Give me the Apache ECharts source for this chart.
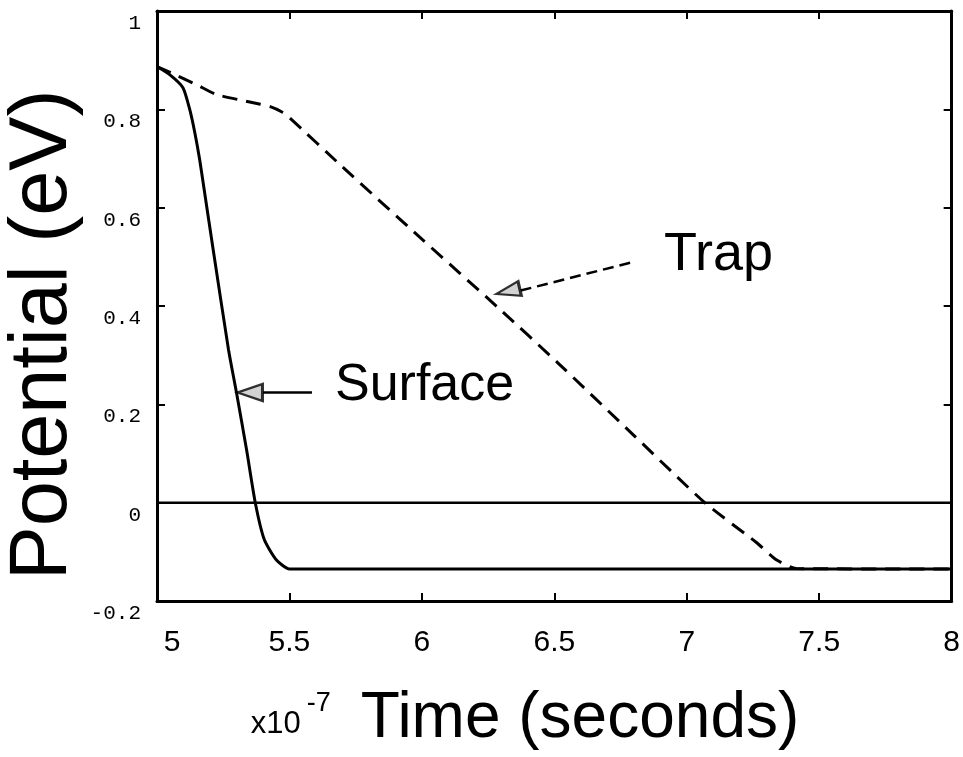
<!DOCTYPE html>
<html>
<head>
<meta charset="utf-8">
<script src="https://cdn.jsdelivr.net/npm/echarts@6/dist/echarts.min.js"></script>
<style>html,body{margin:0;padding:0;background:#fff;}#c{width:963px;height:757px;}</style>
</head>
<body>
<div id="c"></div>
<script>
// Data (time in units of 1e-7 s, potential in eV)
const surfaceX = [5.0, 5.049, 5.098, 5.124, 5.143, 5.161, 5.180, 5.212, 5.270, 5.300, 5.338, 5.371, 5.405, 5.450, 5.5, 8.0];
const surfaceY = [0.887, 0.870, 0.844, 0.799, 0.752, 0.698, 0.630, 0.515, 0.311, 0.224, 0.108, 0.0, -0.075, -0.116, -0.135, -0.135];
const trapX = [5.0, 5.07, 5.15, 5.225, 5.35, 5.43, 5.47, 5.5, 5.7, 6.0, 6.287, 6.512, 6.8, 7.068, 7.263, 7.338, 7.413, 8.0];
const trapY = [0.887, 0.870, 0.850, 0.830, 0.815, 0.805, 0.795, 0.783, 0.683, 0.536, 0.397, 0.285, 0.137, 0.0, -0.081, -0.116, -0.134, -0.135];
const zeroX = [5, 8];
const zeroY = [0, 0];
const xTicks = [5, 5.5, 6, 6.5, 7, 7.5, 8];
const yTicks = [-0.2, 0, 0.2, 0.4, 0.6, 0.8, 1];
// Annotation arrows: start of shaft, end of shaft, arrowhead centre
const trapArrowShaft = [[6.786, 0.488], [6.37, 0.431]];
const trapArrowHead = [6.325, 0.430];
const surfaceArrowShaft = [[5.585, 0.224], [5.40, 0.224]];
const surfaceArrowHead = [5.351, 0.224];

const zip = (xs, ys) => xs.map((x, i) => [x, ys[i]]);

const chart = echarts.init(document.getElementById('c'), null, {renderer: 'canvas'});
const axisLine = {show: true, onZero: false, lineStyle: {color: '#000', width: 3}};
const tick = {show: true, inside: true, length: 8, lineStyle: {color: '#000', width: 2}};
chart.setOption({
  animation: false,
  backgroundColor: '#fff',
  grid: {left: 157, right: 7, top: 11, bottom: 156},
  xAxis: [{
    type: 'value', min: xTicks[0], max: xTicks[xTicks.length - 1], interval: 0.5,
    axisLine: axisLine, axisTick: tick, splitLine: {show: false},
    axisLabel: {fontFamily: 'Liberation Sans', fontSize: 30, color: '#000', margin: 27,
      formatter: v => v === xTicks[0] ? '{first|' + v + '}' : String(v),
      rich: {first: {fontFamily: 'Liberation Sans', fontSize: 30, padding: [0, 0, 0, 30]}}}
  }, {
    type: 'value', position: 'top', min: xTicks[0], max: xTicks[xTicks.length - 1], interval: 0.5,
    axisLine: axisLine, axisTick: tick, axisLabel: {show: false}, splitLine: {show: false}
  }],
  yAxis: [{
    type: 'value', min: yTicks[0], max: yTicks[yTicks.length - 1], interval: 0.2,
    axisLine: axisLine, axisTick: tick, splitLine: {show: false},
    axisLabel: {fontFamily: 'Liberation Mono', fontSize: 21, color: '#000', margin: 16,
      verticalAlign: 'top', padding: [2, 0, 0, 0]}
  }, {
    type: 'value', position: 'right', min: yTicks[0], max: yTicks[yTicks.length - 1], interval: 0.2,
    axisLine: axisLine, axisTick: tick, axisLabel: {show: false}, splitLine: {show: false}
  }],
  series: [
    {type: 'line', data: zip(zeroX, zeroY), symbol: 'none', lineStyle: {color: '#000', width: 2.5}, z: 2},
    {type: 'line', name: 'Surface', data: zip(surfaceX, surfaceY), symbol: 'none', smooth: 0.2,
      lineStyle: {color: '#000', width: 3}, z: 3},
    {type: 'line', name: 'Trap', data: zip(trapX, trapY), symbol: 'none', smooth: 0.2,
      lineStyle: {color: '#000', width: 3, type: [15, 9]}, z: 3},
    {type: 'line', data: trapArrowShaft, symbol: 'none', lineStyle: {color: '#000', width: 2.5, type: [11, 6]}, z: 4},
    {type: 'line', data: surfaceArrowShaft, symbol: 'none', lineStyle: {color: '#000', width: 2.5}, z: 4},
    {type: 'scatter', data: [trapArrowHead], symbol: 'triangle', symbolSize: [15, 24], symbolRotate: 103,
      itemStyle: {color: '#c8c8c8', borderColor: '#000', borderWidth: 2.5}, z: 5},
    {type: 'scatter', data: [surfaceArrowHead], symbol: 'triangle', symbolSize: [17, 25], symbolRotate: 90,
      itemStyle: {color: '#c8c8c8', borderColor: '#000', borderWidth: 2.5}, z: 5}
  ],
  graphic: [
    {type: 'text', left: 664, top: 228, style: {text: 'Trap', fontFamily: 'Liberation Sans', fontSize: 54, fill: '#000'}},
    {type: 'text', left: 335, top: 360, style: {text: 'Surface', fontFamily: 'Liberation Sans', fontSize: 52, fill: '#000'}},
    {type: 'text', x: 44, y: 335, rotation: Math.PI / 2,
      style: {text: 'Potential (eV)', fontFamily: 'Liberation Sans', fontSize: 81, fill: '#000', align: 'center', verticalAlign: 'middle'}},
    {type: 'text', x: 525, y: 719,
      style: {
        text: '{s|x10}{sup|-7}{b|Time (seconds)}', align: 'center', verticalAlign: 'middle', fill: '#000',
        rich: {
          s: {fontFamily: 'Liberation Sans', fontSize: 31, padding: [10, 0, 0, 0]},
          sup: {fontFamily: 'Liberation Sans', fontSize: 27, padding: [0, 0, 30, 6]},
          b: {fontFamily: 'Liberation Sans', fontSize: 64, padding: [0, 0, 0, 30]}
        }
      }}
  ]
});
</script>
</body>
</html>
